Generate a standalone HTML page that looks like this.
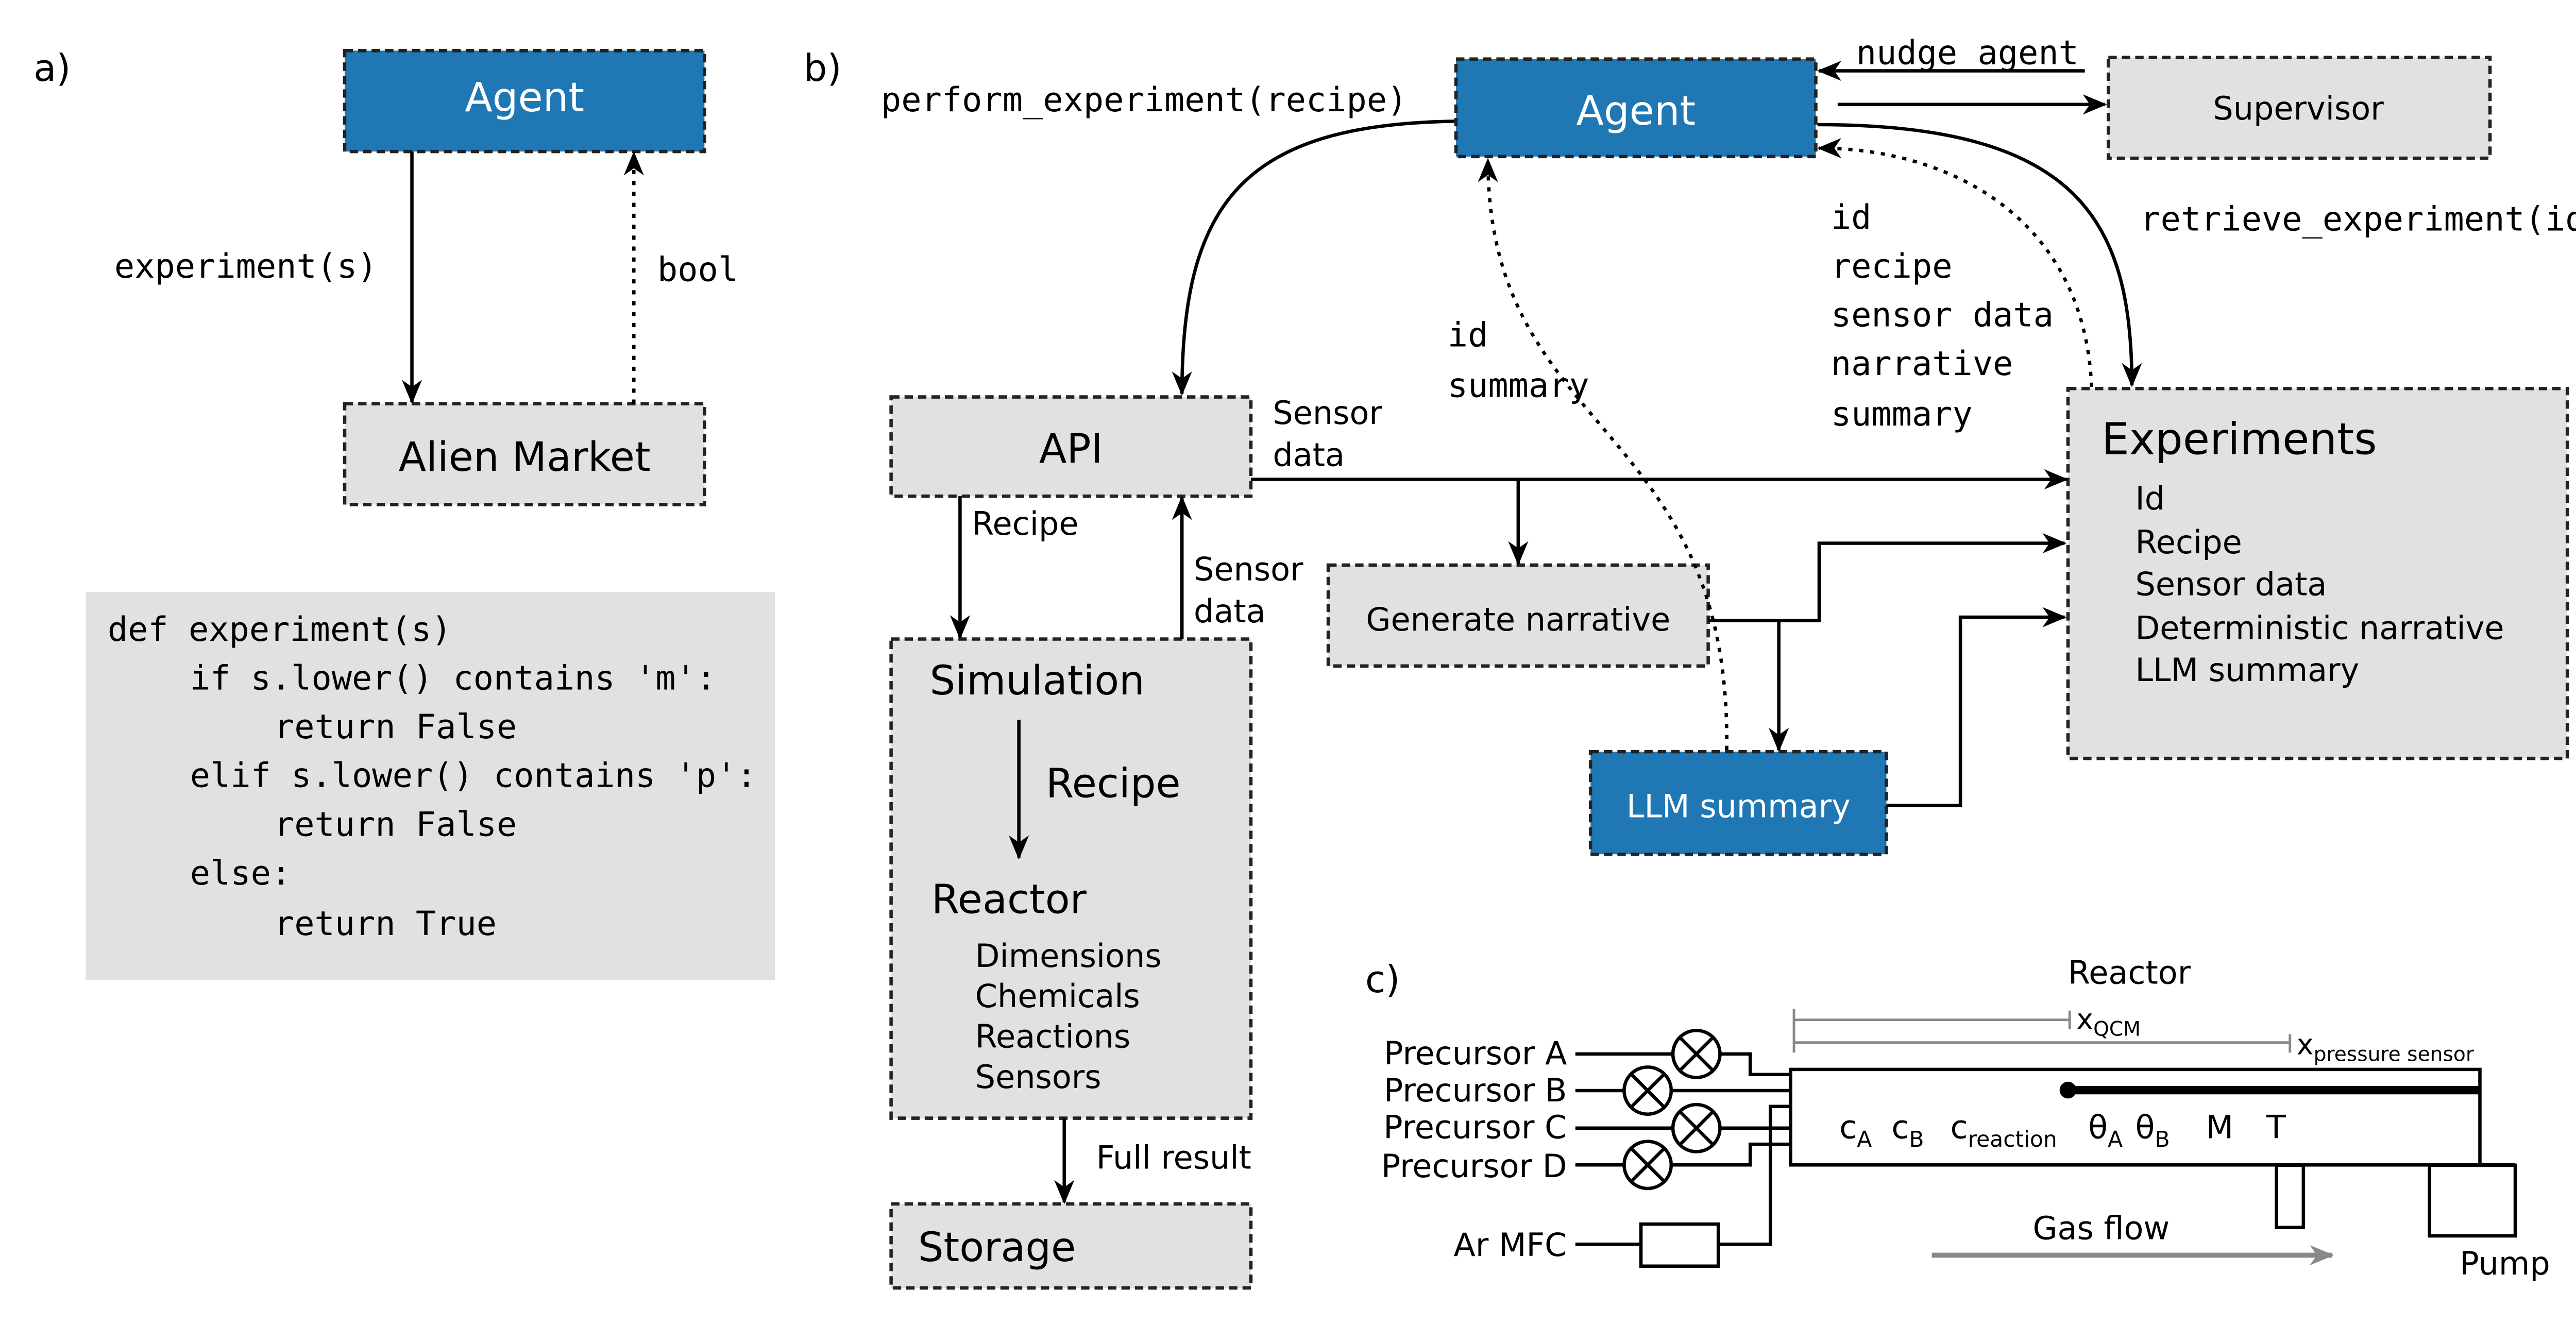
<!DOCTYPE html>
<html><head><meta charset="utf-8"><style>
html,body{margin:0;padding:0;background:#fff}
svg{display:block}
text{font-family:"DejaVu Sans","Liberation Sans",sans-serif;fill:#000}
.m{font-family:"DejaVu Sans Mono","Liberation Mono",monospace}
.w{fill:#fff}
</style></head><body>
<svg width="5117" height="2605" viewBox="0 0 1568 798" xmlns="http://www.w3.org/2000/svg">
<defs>
<marker id="a" viewBox="0 0 12 10" refX="11" refY="5" markerWidth="15" markerHeight="12" orient="auto" markerUnits="userSpaceOnUse">
<path d="M0,0 L12,5 L0,10 L3.5,5 z" fill="#000"/></marker>
<marker id="g" viewBox="0 0 12 10" refX="11" refY="5" markerWidth="15" markerHeight="12" orient="auto" markerUnits="userSpaceOnUse">
<path d="M0,0 L12,5 L0,10 L3.5,5 z" fill="#888"/></marker>
</defs>
<g stroke="#222" stroke-width="2" stroke-dasharray="5,3">
<rect x="205" y="30" width="214" height="60" fill="#1f77b4"/>
<rect x="205" y="240" width="214" height="60" fill="#e0e1e0"/>
<rect x="866" y="35" width="214" height="58" fill="#1f77b4"/>
<rect x="1254" y="34" width="227" height="60" fill="#e0e1e0"/>
<rect x="530" y="236" width="214" height="59" fill="#e0e1e0"/>
<rect x="790" y="336" width="226" height="60" fill="#e0e1e0"/>
<rect x="946" y="447" width="176" height="61" fill="#1f77b4"/>
<rect x="1230" y="231" width="297" height="220" fill="#e0e1e0"/>
<rect x="530" y="380" width="214" height="285" fill="#e0e1e0"/>
<rect x="530" y="716" width="214" height="50" fill="#e0e1e0"/>
</g>
<rect x="51" y="352" width="410" height="231" fill="#e0e1e0"/>
<text x="20" y="48" font-size="22">a)</text>
<text x="478" y="48" font-size="22">b)</text>
<text x="812" y="590" font-size="22">c)</text>
<text x="312" y="66" font-size="24" text-anchor="middle" class="w">Agent</text>
<text x="312" y="280" font-size="24" text-anchor="middle">Alien Market</text>
<g fill="none" stroke="#000" stroke-width="2">
<line x1="245" y1="90" x2="245" y2="239" marker-end="url(#a)"/>
<line x1="377" y1="240" x2="377" y2="91" stroke-dasharray="2.5,4" marker-end="url(#a)"/>
</g>
<text x="68" y="165" font-size="20" class="m">experiment(s)</text>
<text x="391" y="167" font-size="20" class="m">bool</text>
<g font-size="20">
<text x="64" y="381" class="m">def experiment(s)</text>
<text x="113" y="410" class="m">if s.lower() contains 'm':</text>
<text x="163" y="439" class="m">return False</text>
<text x="113" y="468" class="m">elif s.lower() contains 'p':</text>
<text x="163" y="497" class="m">return False</text>
<text x="113" y="526" class="m">else:</text>
<text x="163" y="556" class="m">return True</text>
</g>
<!-- panel b -->
<text x="973" y="74" font-size="24" text-anchor="middle" class="w">Agent</text>
<text x="1367" y="71" font-size="19" text-anchor="middle">Supervisor</text>
<text x="637" y="275" font-size="24" text-anchor="middle">API</text>
<text x="903" y="375" font-size="19" text-anchor="middle">Generate narrative</text>
<text x="1034" y="486" font-size="19" text-anchor="middle" class="w">LLM summary</text>
<text x="1250" y="270" font-size="26">Experiments</text>
<g font-size="19">
<text x="1270" y="303">Id</text><text x="1270" y="329">Recipe</text><text x="1270" y="354">Sensor data</text>
<text x="1270" y="380">Deterministic narrative</text><text x="1270" y="405">LLM summary</text>
<text x="757" y="252">Sensor</text><text x="757" y="277">data</text>
<text x="578" y="318">Recipe</text>
<text x="710" y="345">Sensor</text><text x="710" y="370">data</text>
<text x="580" y="575">Dimensions</text><text x="580" y="599">Chemicals</text><text x="580" y="623">Reactions</text><text x="580" y="647">Sensors</text>
<text x="652" y="695">Full result</text>
</g>
<text x="553" y="413" font-size="24">Simulation</text>
<text x="622" y="474" font-size="24">Recipe</text>
<text x="554" y="543" font-size="24">Reactor</text>
<text x="546" y="750" font-size="24">Storage</text>
<g font-size="20">
<text x="524" y="66" class="m">perform_experiment(recipe)</text>
<text x="1104" y="38" class="m">nudge_agent</text>
<text x="1273" y="137" class="m">retrieve_experiment(id)</text>
<text x="1089" y="136" class="m">id</text><text x="1089" y="165" class="m">recipe</text><text x="1089" y="194" class="m">sensor data</text>
<text x="1089" y="223" class="m">narrative</text><text x="1089" y="253" class="m">summary</text>
<text x="861" y="206" class="m">id</text><text x="861" y="236" class="m">summary</text>
</g>
<g fill="none" stroke="#000" stroke-width="2">
<line x1="1240" y1="42" x2="1082" y2="42" marker-end="url(#a)"/>
<line x1="1093" y1="62" x2="1252" y2="62" marker-end="url(#a)"/>
<path d="M865,72 C740,74 703,120 703,234" marker-end="url(#a)"/>
<path d="M1081,74 C1235,74 1268,130 1268,229" marker-end="url(#a)"/>
<path d="M1244,230 C1240,130 1160,88 1082,88" stroke-dasharray="2.5,4" marker-end="url(#a)"/>
<path d="M1027,446 C1030,250 885,260 885,95" stroke-dasharray="2.5,4" marker-end="url(#a)"/>
<line x1="744" y1="285" x2="1229" y2="285" marker-end="url(#a)"/>
<line x1="903" y1="285" x2="903" y2="335" marker-end="url(#a)"/>
<polyline points="1016,369 1082,369 1082,323 1228,323" marker-end="url(#a)"/>
<line x1="1058" y1="369" x2="1058" y2="446" marker-end="url(#a)"/>
<polyline points="1122,479 1166,479 1166,367 1228,367" marker-end="url(#a)"/>
<line x1="571" y1="295" x2="571" y2="379" marker-end="url(#a)"/>
<line x1="703" y1="380" x2="703" y2="296" marker-end="url(#a)"/>
<line x1="606" y1="428" x2="606" y2="510" marker-end="url(#a)"/>
<line x1="633" y1="665" x2="633" y2="715" marker-end="url(#a)"/>
</g>
<!-- panel c -->
<text x="1230" y="585" font-size="19">Reactor</text>
<g stroke="#888" stroke-width="1.5" fill="none">
<line x1="1067" y1="606.5" x2="1231" y2="606.5"/><line x1="1067" y1="620" x2="1362" y2="620"/>
<line x1="1067" y1="600" x2="1067" y2="626"/><line x1="1231" y1="601" x2="1231" y2="612"/>
<line x1="1362" y1="615" x2="1362" y2="626"/>
</g>
<text x="1235" y="612" font-size="17">x<tspan font-size="12" dy="4">QCM</tspan></text>
<text x="1366" y="627" font-size="17">x<tspan font-size="12" dy="4">pressure sensor</tspan></text>
<g fill="none" stroke="#000" stroke-width="2">
<rect x="1065" y="636" width="410" height="56.8"/>
<line x1="1475" y1="692.8" x2="1496" y2="692.8"/>
<rect x="1354" y="693" width="16" height="37"/>
<rect x="1445" y="693" width="51" height="42"/>
<line x1="1230" y1="648.3" x2="1475" y2="648.3" stroke-width="5"/>
<polyline points="937,626.8 1041,626.8 1041,639 1065,639"/>
<line x1="937" y1="648.6" x2="1065" y2="648.6"/>
<line x1="937" y1="670.9" x2="1065" y2="670.9"/>
<polyline points="937,692.8 1041,692.8 1041,680.5 1065,680.5"/>
<polyline points="937,740 976,740"/>
<rect x="976" y="728" width="46" height="25" fill="#fff"/>
<polyline points="1022,740 1053,740 1053,658 1065,658"/>
</g>
<circle cx="1230" cy="648.3" r="5" fill="#000"/>
<g fill="#fff" stroke="#000" stroke-width="2">
<g transform="translate(1009,626.8)"><circle r="14"/><path d="M-10,-10 L10,10 M10,-10 L-10,10"/></g>
<g transform="translate(980,648.6)"><circle r="14"/><path d="M-10,-10 L10,10 M10,-10 L-10,10"/></g>
<g transform="translate(1009,670.9)"><circle r="14"/><path d="M-10,-10 L10,10 M10,-10 L-10,10"/></g>
<g transform="translate(980,692.8)"><circle r="14"/><path d="M-10,-10 L10,10 M10,-10 L-10,10"/></g>
</g>
<g font-size="19" text-anchor="end">
<text x="932" y="633">Precursor A</text><text x="932" y="655">Precursor B</text>
<text x="932" y="677">Precursor C</text><text x="932" y="700">Precursor D</text>
<text x="932" y="747">Ar MFC</text>
</g>
<g font-size="19">
<text x="1094" y="677">c<tspan font-size="13" dy="5">A</tspan></text>
<text x="1125" y="677">c<tspan font-size="13" dy="5">B</tspan></text>
<text x="1160" y="677">c<tspan font-size="13" dy="5">reaction</tspan></text>
<text x="1242" y="677">θ<tspan font-size="13" dy="5">A</tspan></text>
<text x="1270" y="677">θ<tspan font-size="13" dy="5">B</tspan></text>
<text x="1312" y="677">M</text><text x="1348" y="677">T</text>
<text x="1209" y="737">Gas flow</text>
<text x="1463" y="758">Pump</text>
</g>
<line x1="1149" y1="746.5" x2="1387" y2="746.5" stroke="#888" stroke-width="3" marker-end="url(#g)"/>
</svg>
</body></html>
